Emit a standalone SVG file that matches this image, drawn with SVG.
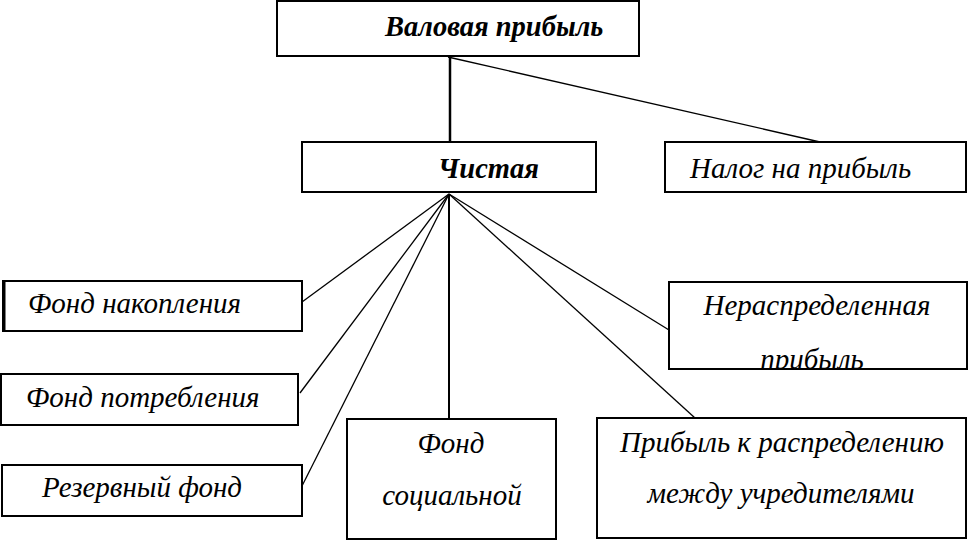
<svg xmlns="http://www.w3.org/2000/svg" width="968" height="541" viewBox="0 0 968 541">
<style>
.box{fill:#fff;stroke:#000;stroke-width:2}
.t{font-family:"Liberation Serif","Times New Roman",serif;font-style:italic;font-size:29px;fill:#000}
.b{font-weight:bold;font-size:28.5px}
.c{stroke:#000;stroke-width:1.3;fill:none}
</style>
<defs>
<clipPath id="clipN"><rect x="669" y="282" width="298" height="86"/></clipPath>
</defs>
<rect width="968" height="541" fill="#fff"/>
<g id="connectors">
<line class="c" x1="450" y1="57" x2="450" y2="142" style="stroke-width:2.5"/>
<line class="c" x1="448" y1="57" x2="820" y2="142"/>
<line class="c" x1="449" y1="194" x2="302" y2="302"/>
<line class="c" x1="449" y1="194" x2="300" y2="393"/>
<line class="c" x1="449" y1="194" x2="302" y2="486"/>
<line class="c" x1="449" y1="194" x2="449" y2="419" style="stroke-width:2"/>
<line class="c" x1="449" y1="194" x2="669" y2="330"/>
<line class="c" x1="449" y1="194" x2="695" y2="418"/>
</g>
<g id="n-gross">
<rect class="box" x="277" y="1" width="362" height="55"/>
<text class="t b" x="385" y="36">Валовая прибыль</text>
</g>
<g id="n-net">
<rect class="box" x="302" y="142" width="294" height="50"/>
<text class="t b" x="438" y="178">Чистая</text>
</g>
<g id="n-tax">
<rect class="box" x="665" y="142" width="301" height="50"/>
<text class="t" x="690" y="178">Налог на прибыль</text>
</g>
<g id="n-accum">
<rect class="box" x="3" y="281" width="299" height="50"/>
<line x1="4" y1="281" x2="4" y2="331" stroke="#000" stroke-width="3"/>
<text class="t" x="28" y="313">Фонд накопления</text>
</g>
<g id="n-consume">
<rect class="box" x="1" y="374" width="297" height="51"/>
<text class="t" x="26" y="407">Фонд потребления</text>
</g>
<g id="n-reserve">
<rect class="box" x="2" y="465" width="300" height="51"/>
<text class="t" x="42" y="497">Резервный фонд</text>
</g>
<g id="n-social">
<rect class="box" x="347" y="419" width="209" height="120"/>
<text class="t" x="451" y="453" text-anchor="middle">Фонд</text>
<text class="t" x="452" y="505" text-anchor="middle">социальной</text>
</g>
<g id="n-retained">
<rect class="box" x="669" y="282" width="298" height="87"/>
<text class="t" x="817" y="315" text-anchor="middle">Нераспределенная</text>
<text class="t" x="812" y="369" text-anchor="middle" clip-path="url(#clipN)">прибыль</text>
</g>
<g id="n-distrib">
<rect class="box" x="597" y="418" width="369" height="120"/>
<text class="t" x="782" y="452" text-anchor="middle">Прибыль к распределению</text>
<text class="t" x="781" y="503" text-anchor="middle">между учредителями</text>
</g>
</svg>
